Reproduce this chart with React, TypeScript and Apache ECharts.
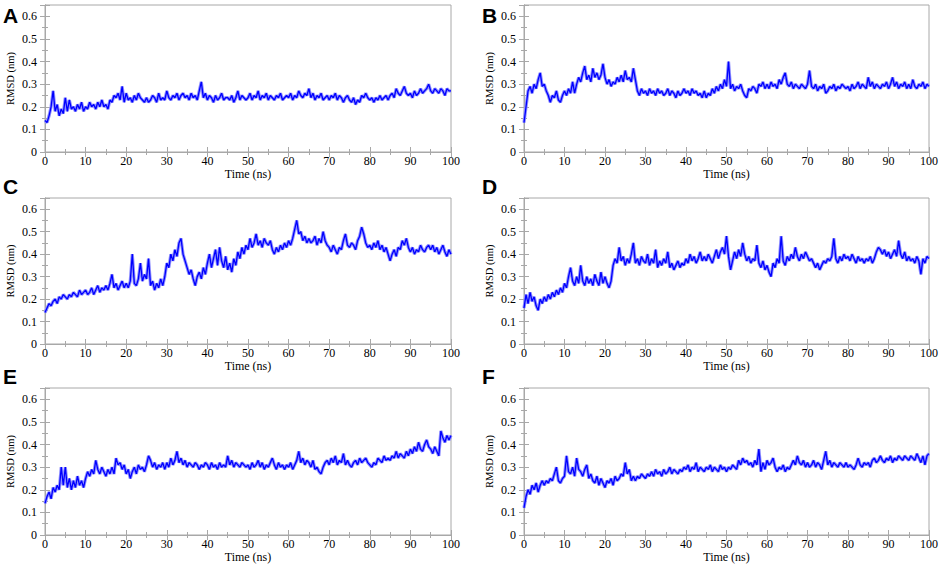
import React, { useEffect, useRef } from "react";
import * as echarts from "echarts";

// sampling step of the hand-read traces (ns)
const TIME_STEP_NS = 0.5;

const PANEL_LABELS = ["A", "B", "C", "D", "E", "F"];
const X_AXIS_NAME = "Time (ns)";
const Y_AXIS_NAME = "RMSD (nm)";

const rmsdA = [
  0.14,0.13,0.16,0.2,0.27,0.18,0.21,0.16,0.19,0.17,
  0.24,0.18,0.23,0.19,0.2,0.18,0.21,0.19,0.22,0.18,
  0.2,0.19,0.22,0.2,0.21,0.19,0.22,0.2,0.23,0.2,
  0.21,0.19,0.23,0.22,0.25,0.24,0.26,0.23,0.29,0.22,
  0.26,0.23,0.24,0.22,0.25,0.23,0.26,0.24,0.23,0.22,
  0.24,0.22,0.23,0.25,0.24,0.22,0.26,0.23,0.24,0.23,
  0.27,0.24,0.23,0.25,0.24,0.26,0.23,0.25,0.26,0.24,
  0.25,0.23,0.26,0.24,0.25,0.23,0.27,0.31,0.24,0.26,
  0.23,0.25,0.24,0.22,0.25,0.23,0.24,0.26,0.23,0.24,
  0.24,0.23,0.25,0.22,0.24,0.27,0.23,0.25,0.24,0.23,
  0.24,0.26,0.23,0.25,0.24,0.27,0.23,0.25,0.24,0.26,
  0.23,0.25,0.24,0.23,0.25,0.24,0.26,0.23,0.24,0.25,
  0.24,0.26,0.23,0.25,0.24,0.27,0.25,0.24,0.26,0.25,
  0.28,0.24,0.26,0.23,0.25,0.24,0.26,0.23,0.24,0.25,
  0.23,0.25,0.24,0.26,0.23,0.25,0.24,0.22,0.24,0.25,
  0.23,0.22,0.24,0.21,0.23,0.22,0.25,0.24,0.26,0.24,
  0.23,0.24,0.22,0.24,0.23,0.25,0.23,0.24,0.25,0.23,
  0.25,0.26,0.24,0.28,0.26,0.25,0.27,0.29,0.26,0.25,
  0.26,0.24,0.27,0.25,0.26,0.28,0.26,0.27,0.28,0.3,
  0.27,0.26,0.28,0.27,0.26,0.28,0.27,0.25,0.28,0.27,
  0.27,
];

const rmsdB = [
  0.13,0.2,0.27,0.29,0.26,0.3,0.28,0.32,0.35,0.29,
  0.3,0.27,0.25,0.22,0.25,0.24,0.27,0.23,0.22,0.25,
  0.27,0.25,0.28,0.26,0.31,0.26,0.3,0.33,0.31,0.35,
  0.38,0.32,0.34,0.31,0.37,0.33,0.35,0.32,0.34,0.39,
  0.33,0.3,0.32,0.29,0.31,0.3,0.33,0.31,0.34,0.31,
  0.36,0.32,0.33,0.31,0.37,0.32,0.27,0.25,0.28,0.26,
  0.27,0.25,0.28,0.26,0.27,0.25,0.28,0.26,0.27,0.25,
  0.26,0.28,0.25,0.27,0.26,0.24,0.27,0.25,0.26,0.28,
  0.26,0.27,0.25,0.28,0.26,0.27,0.25,0.26,0.24,0.27,
  0.24,0.26,0.25,0.28,0.26,0.29,0.27,0.3,0.28,0.32,
  0.29,0.4,0.28,0.3,0.27,0.29,0.28,0.3,0.27,0.25,
  0.24,0.28,0.27,0.29,0.28,0.26,0.3,0.29,0.31,0.28,
  0.3,0.28,0.31,0.29,0.3,0.28,0.32,0.3,0.33,0.35,
  0.3,0.29,0.31,0.28,0.3,0.29,0.28,0.3,0.29,0.28,
  0.3,0.36,0.29,0.28,0.3,0.27,0.29,0.28,0.3,0.26,
  0.27,0.29,0.28,0.3,0.27,0.29,0.28,0.3,0.29,0.28,
  0.29,0.27,0.3,0.28,0.29,0.31,0.28,0.3,0.29,0.28,
  0.33,0.29,0.31,0.28,0.3,0.29,0.28,0.3,0.29,0.31,
  0.28,0.3,0.33,0.29,0.31,0.28,0.3,0.29,0.31,0.28,
  0.3,0.28,0.32,0.29,0.28,0.3,0.29,0.31,0.28,0.3,
  0.29,
];

const rmsdC = [
  0.14,0.16,0.18,0.17,0.19,0.2,0.18,0.21,0.2,0.22,
  0.21,0.2,0.22,0.21,0.23,0.22,0.21,0.24,0.22,0.23,
  0.24,0.22,0.23,0.25,0.22,0.24,0.26,0.23,0.25,0.24,
  0.26,0.24,0.27,0.31,0.25,0.27,0.24,0.26,0.28,0.25,
  0.27,0.25,0.28,0.4,0.27,0.26,0.29,0.36,0.28,0.31,
  0.29,0.38,0.26,0.28,0.24,0.27,0.25,0.29,0.26,0.3,
  0.36,0.34,0.4,0.37,0.42,0.39,0.45,0.47,0.4,0.37,
  0.34,0.31,0.33,0.29,0.26,0.3,0.32,0.29,0.34,0.31,
  0.36,0.4,0.34,0.38,0.42,0.35,0.43,0.37,0.34,0.39,
  0.33,0.36,0.32,0.38,0.35,0.41,0.38,0.43,0.4,0.44,
  0.42,0.47,0.43,0.45,0.49,0.44,0.46,0.43,0.47,0.45,
  0.44,0.46,0.42,0.4,0.43,0.41,0.44,0.42,0.45,0.43,
  0.46,0.44,0.47,0.51,0.55,0.49,0.5,0.46,0.48,0.45,
  0.47,0.45,0.46,0.48,0.44,0.47,0.45,0.5,0.46,0.44,
  0.43,0.41,0.44,0.42,0.4,0.43,0.42,0.46,0.49,0.44,
  0.43,0.45,0.44,0.42,0.46,0.48,0.52,0.49,0.45,0.43,
  0.44,0.42,0.45,0.43,0.46,0.42,0.44,0.41,0.43,0.4,
  0.37,0.4,0.42,0.39,0.43,0.42,0.46,0.44,0.47,0.43,
  0.41,0.43,0.4,0.42,0.41,0.44,0.42,0.41,0.43,0.44,
  0.42,0.44,0.41,0.43,0.4,0.42,0.44,0.41,0.39,0.42,
  0.4,
];

const rmsdD = [
  0.16,0.22,0.18,0.23,0.19,0.21,0.17,0.15,0.2,0.18,
  0.21,0.19,0.22,0.2,0.23,0.21,0.24,0.22,0.25,0.23,
  0.27,0.25,0.3,0.34,0.28,0.26,0.3,0.27,0.35,0.28,
  0.26,0.3,0.27,0.29,0.26,0.31,0.28,0.26,0.32,0.27,
  0.3,0.27,0.25,0.28,0.35,0.38,0.36,0.43,0.37,0.39,
  0.35,0.38,0.36,0.4,0.45,0.36,0.38,0.35,0.39,0.37,
  0.36,0.4,0.35,0.38,0.36,0.42,0.34,0.37,0.35,0.38,
  0.36,0.41,0.34,0.36,0.33,0.35,0.37,0.34,0.36,0.35,
  0.38,0.36,0.4,0.37,0.39,0.36,0.38,0.41,0.37,0.39,
  0.37,0.4,0.38,0.36,0.39,0.42,0.38,0.41,0.43,0.4,
  0.48,0.39,0.33,0.37,0.41,0.38,0.42,0.39,0.45,0.4,
  0.37,0.39,0.36,0.38,0.37,0.44,0.36,0.34,0.37,0.33,
  0.35,0.32,0.3,0.36,0.34,0.38,0.36,0.48,0.37,0.35,
  0.39,0.37,0.4,0.38,0.43,0.39,0.37,0.4,0.38,0.41,
  0.39,0.37,0.38,0.36,0.34,0.36,0.33,0.35,0.37,0.36,
  0.38,0.37,0.39,0.47,0.38,0.36,0.39,0.37,0.4,0.38,
  0.39,0.37,0.4,0.38,0.36,0.39,0.37,0.38,0.36,0.38,
  0.37,0.39,0.36,0.38,0.41,0.43,0.42,0.4,0.42,0.39,
  0.41,0.38,0.4,0.42,0.39,0.46,0.4,0.38,0.41,0.37,
  0.39,0.37,0.38,0.36,0.39,0.37,0.31,0.38,0.36,0.39,
  0.38,
];

const rmsdE = [
  0.14,0.17,0.19,0.16,0.21,0.19,0.22,0.2,0.3,0.22,
  0.3,0.21,0.25,0.2,0.24,0.21,0.26,0.22,0.24,0.21,
  0.25,0.28,0.26,0.29,0.27,0.33,0.29,0.27,0.3,0.28,
  0.26,0.29,0.27,0.3,0.27,0.34,0.31,0.32,0.29,0.31,
  0.27,0.29,0.25,0.28,0.3,0.27,0.31,0.29,0.3,0.28,
  0.31,0.35,0.33,0.3,0.32,0.29,0.31,0.3,0.32,0.29,
  0.32,0.3,0.34,0.31,0.33,0.37,0.32,0.34,0.31,0.33,
  0.3,0.32,0.31,0.3,0.32,0.31,0.29,0.31,0.3,0.32,
  0.31,0.29,0.32,0.3,0.31,0.29,0.32,0.3,0.31,0.3,
  0.35,0.31,0.33,0.3,0.32,0.31,0.3,0.32,0.31,0.3,
  0.31,0.29,0.32,0.3,0.31,0.33,0.3,0.32,0.29,0.31,
  0.3,0.32,0.34,0.31,0.29,0.32,0.3,0.31,0.29,0.31,
  0.3,0.32,0.29,0.31,0.33,0.37,0.32,0.34,0.31,0.33,
  0.32,0.3,0.33,0.29,0.3,0.28,0.27,0.3,0.32,0.33,
  0.31,0.34,0.32,0.35,0.31,0.33,0.32,0.36,0.31,0.33,
  0.31,0.3,0.32,0.33,0.31,0.34,0.32,0.33,0.34,0.32,
  0.31,0.3,0.32,0.31,0.34,0.33,0.32,0.35,0.33,0.34,
  0.33,0.35,0.34,0.37,0.34,0.36,0.35,0.34,0.37,0.35,
  0.38,0.36,0.39,0.37,0.41,0.38,0.37,0.4,0.42,0.39,
  0.38,0.36,0.39,0.37,0.35,0.46,0.43,0.41,0.44,0.42,
  0.44,
];

const rmsdF = [
  0.12,0.17,0.2,0.18,0.22,0.2,0.23,0.19,0.22,0.24,
  0.22,0.24,0.23,0.25,0.24,0.27,0.3,0.24,0.23,0.25,
  0.26,0.35,0.28,0.27,0.3,0.26,0.34,0.29,0.28,0.26,
  0.29,0.31,0.25,0.27,0.24,0.23,0.26,0.22,0.25,0.23,
  0.21,0.24,0.23,0.25,0.22,0.26,0.24,0.25,0.27,0.26,
  0.32,0.27,0.29,0.24,0.26,0.24,0.26,0.25,0.27,0.26,
  0.25,0.27,0.26,0.28,0.26,0.29,0.27,0.28,0.26,0.29,
  0.27,0.28,0.3,0.27,0.29,0.28,0.27,0.29,0.28,0.3,
  0.29,0.31,0.28,0.3,0.29,0.32,0.28,0.3,0.29,0.28,
  0.3,0.29,0.31,0.28,0.3,0.29,0.28,0.31,0.29,0.3,
  0.28,0.3,0.29,0.31,0.3,0.29,0.33,0.31,0.34,0.32,
  0.33,0.31,0.32,0.3,0.33,0.31,0.38,0.28,0.32,0.29,
  0.33,0.31,0.32,0.34,0.3,0.28,0.3,0.29,0.31,0.28,
  0.3,0.29,0.31,0.33,0.31,0.35,0.32,0.31,0.33,0.3,
  0.32,0.3,0.31,0.33,0.3,0.32,0.31,0.29,0.33,0.37,
  0.31,0.33,0.3,0.32,0.31,0.3,0.32,0.31,0.3,0.32,
  0.3,0.31,0.3,0.29,0.31,0.34,0.31,0.3,0.32,0.31,
  0.32,0.3,0.33,0.34,0.32,0.33,0.35,0.33,0.32,0.34,
  0.33,0.35,0.32,0.34,0.33,0.35,0.34,0.33,0.35,0.34,
  0.33,0.35,0.34,0.33,0.36,0.34,0.32,0.35,0.31,0.35,
  0.36,
];

const PANEL_SERIES = [rmsdA, rmsdB, rmsdC, rmsdD, rmsdE, rmsdF];

// layout (pixels)
const GRID_BOXES = [
  { left: 45, top: 5, width: 406, height: 147 },
  { left: 524, top: 5, width: 406, height: 147 },
  { left: 45, top: 198, width: 406, height: 146 },
  { left: 524, top: 198, width: 406, height: 146 },
  { left: 45, top: 388, width: 406, height: 147 },
  { left: 524, top: 388, width: 406, height: 147 },
];
const LETTER_POS = [
  { x: 3, y: 15 },
  { x: 482, y: 15 },
  { x: 3, y: 186 },
  { x: 482, y: 186 },
  { x: 3, y: 376 },
  { x: 482, y: 376 },
];

const FRAME = "#a8a8a8";
const SERIF = "Liberation Serif";

export default function App() {
  const ref = useRef<HTMLDivElement>(null);

  useEffect(() => {
    if (!ref.current) return;
    const chart = echarts.init(ref.current, undefined, { renderer: "svg" });

    const grid: any[] = [];
    const xAxis: any[] = [];
    const yAxis: any[] = [];
    const series: any[] = [];
    const graphic: any[] = [];

    const tickCommon = {
      axisLine: { show: true, lineStyle: { color: FRAME, width: 1 } },
      axisTick: { show: true, inside: true, length: 5, lineStyle: { color: FRAME } },
      minorTick: { show: true, splitNumber: 2, length: 3, lineStyle: { color: FRAME } },
      splitLine: { show: false },
    };

    PANEL_SERIES.forEach((vals, i) => {
      grid.push({ ...GRID_BOXES[i], show: true, borderColor: FRAME, borderWidth: 1, backgroundColor: "#fff" });
      xAxis.push({
        type: "value",
        gridIndex: i,
        position: "bottom",
        min: 0,
        max: 100,
        interval: 10,
        ...tickCommon,
        axisLabel: { color: "#000", fontFamily: SERIF, fontSize: 12, margin: 3 },
        name: X_AXIS_NAME,
        nameLocation: "middle",
        nameGap: 15,
        nameTextStyle: { color: "#000", fontFamily: SERIF, fontSize: 12 },
      });
      xAxis.push({
        type: "value",
        gridIndex: i,
        position: "top",
        min: 0,
        max: 100,
        interval: 10,
        ...tickCommon,
        axisLabel: { show: false },
      });
      yAxis.push({
        type: "value",
        gridIndex: i,
        position: "left",
        min: 0,
        max: 0.65,
        interval: 0.1,
        ...tickCommon,
        axisLabel: {
          color: "#000",
          fontFamily: SERIF,
          fontSize: 12,
          margin: 8,
          showMaxLabel: false,
          formatter: (v: number) => (v > 0.6001 ? "" : String(Math.round(v * 10) / 10)),
        },
        name: Y_AXIS_NAME,
        nameLocation: "middle",
        nameGap: 29,
        nameTextStyle: { color: "#000", fontFamily: SERIF, fontSize: 10.5 },
      });
      yAxis.push({
        type: "value",
        gridIndex: i,
        position: "right",
        min: 0,
        max: 0.65,
        interval: 0.1,
        ...tickCommon,
        axisLabel: { show: false },
      });

      const points = vals.map((v, k) => [k * TIME_STEP_NS, v]);
      // soft halo under the trace (antialiased noise band)
      series.push({
        type: "line",
        xAxisIndex: i * 2,
        yAxisIndex: i * 2,
        showSymbol: false,
        symbol: "none",
        silent: true,
        lineStyle: { color: "#8f8fff", width: 3.2 },
        data: points,
      });
      series.push({
        type: "line",
        xAxisIndex: i * 2,
        yAxisIndex: i * 2,
        showSymbol: false,
        symbol: "none",
        lineStyle: { color: "#0000ff", width: 1.3 },
        data: points,
      });

      graphic.push({
        type: "text",
        x: LETTER_POS[i].x,
        y: LETTER_POS[i].y,
        style: {
          text: PANEL_LABELS[i],
          font: "bold 21px Liberation Sans",
          fill: "#000",
          verticalAlign: "middle",
          align: "left",
        },
      });
    });

    chart.setOption({
      animation: false,
      backgroundColor: "#fff",
      grid,
      xAxis,
      yAxis,
      series,
      graphic,
    });

    return () => chart.dispose();
  }, []);

  return (
    <div
      ref={ref}
      style={{ position: "fixed", left: 0, top: 0, width: 941, height: 566, background: "#fff" }}
    />
  );
}
